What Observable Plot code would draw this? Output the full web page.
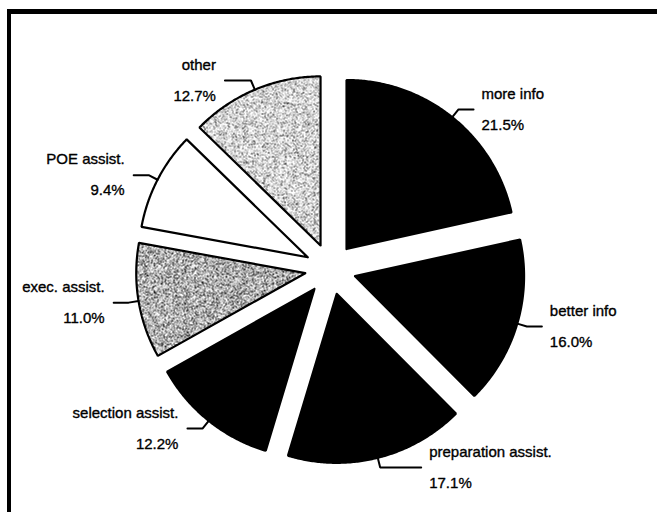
<!DOCTYPE html>
<html>
<head>
<meta charset="utf-8">
<script src="https://cdn.jsdelivr.net/npm/d3@7"></script>
<script src="https://cdn.jsdelivr.net/npm/@observablehq/plot@0.6"></script>
<style>
  html, body { margin: 0; padding: 0; background: #fff; }
  #wrap { position: relative; width: 657px; height: 512px; overflow: hidden; background: #fff; }
  #border { position: absolute; left: 7px; top: 9px; width: 800px; height: 700px;
            border-top: 5px solid #000; border-left: 4px solid #000; box-sizing: border-box; }
  #chart { position: absolute; left: 0; top: 0; }
</style>
</head>
<body>
<svg width="0" height="0" style="position:absolute">
  <defs>
    <filter id="grain" x="0" y="0" width="100%" height="100%" color-interpolation-filters="sRGB">
      <feTurbulence type="fractalNoise" baseFrequency="1.1" numOctaves="2" seed="4" result="n"/>
      <feColorMatrix in="n" type="matrix"
        values="4 0 0 0 -1.25  4 0 0 0 -1.25  4 0 0 0 -1.25  0 0 0 0 1"/>
    </filter>
    <filter id="grainLight" x="0" y="0" width="100%" height="100%" color-interpolation-filters="sRGB">
      <feTurbulence type="fractalNoise" baseFrequency="1.1" numOctaves="2" seed="9" result="n"/>
      <feColorMatrix in="n" type="matrix"
        values="3.5 0 0 0 -0.8  3.5 0 0 0 -0.8  3.5 0 0 0 -0.8  0 0 0 0 1"/>
    </filter>
    <pattern id="stippleDark" patternUnits="userSpaceOnUse" width="300" height="300">
      <rect width="300" height="300" fill="#888" filter="url(#grain)"/>
    </pattern>
    <pattern id="stippleLight" patternUnits="userSpaceOnUse" width="300" height="300">
      <rect width="300" height="300" fill="#bbb" filter="url(#grainLight)"/>
    </pattern>
  </defs>
</svg>
<div id="wrap"><div id="border"></div><div id="chart"></div></div>
<script>
// ---- data ----
const categories = ["more info", "better info", "preparation assist.", "selection assist.", "exec. assist.", "POE assist.", "other"];
const shares = [21.5, 16.0, 17.1, 12.2, 11.0, 9.4, 12.7];
const pctLabels = ["21.5%", "16.0%", "17.1%", "12.2%", "11.0%", "9.4%", "12.7%"];

// ---- layout / style ----
const W = 657, H = 512;
const CX = 330, CY = 268.5, R = 169;     // pie centre and radius in pixels
const EXPLODE = 25.6;                     // slice offset in pixels
const fills = ["#000", "#000", "#000", "#000", "url(#stippleDark)", "#fff", "url(#stippleLight)"];
const leaderLen = {"preparation assist.": 41, "other": 26}; // default 15 px
const e = EXPLODE / R;

const total = d3.sum(shares);
let acc = 0;
const slices = categories.map((name, i) => {
  const a0 = acc / total * 2 * Math.PI;
  acc += shares[i];
  const a1 = acc / total * 2 * Math.PI;
  return {name, value: shares[i], pct: pctLabels[i], a0, a1, am: (a0 + a1) / 2};
});

// wedge outlines (unit coordinates, y up)
const wedge = [];
for (const s of slices) {
  const ox = e * Math.sin(s.am), oy = e * Math.cos(s.am);
  wedge.push({name: s.name, x: ox, y: oy});
  const n = Math.max(8, Math.ceil((s.a1 - s.a0) / (Math.PI / 360)));
  for (let k = 0; k <= n; ++k) {
    const a = s.a0 + (s.a1 - s.a0) * k / n;
    wedge.push({name: s.name, x: ox + Math.sin(a), y: oy + Math.cos(a)});
  }
  wedge.push({name: s.name, x: ox, y: oy});
}

// leader lines and label anchors
const leaders = [];
const labels = [];
for (const s of slices) {
  const sx = Math.sin(s.am), cy = Math.cos(s.am);
  const side = sx >= 0 ? 1 : -1;
  const r0 = 1 + e, r1 = 1 + e + 10 / R;
  const len = (leaderLen[s.name] ?? 15) / R;
  const ex = r1 * sx, ey = r1 * cy;
  leaders.push({name: s.name, x: r0 * sx, y: r0 * cy});
  leaders.push({name: s.name, x: ex, y: ey});
  leaders.push({name: s.name, x: ex + side * len, y: ey});
  labels.push({name: s.name, pct: s.pct, x: ex + side * len, y: ey, side});
}

const textStyle = {fontSize: 15, fill: "#000", stroke: "#000", strokeWidth: 0.35};

const chart = Plot.plot({
  width: W,
  height: H,
  margin: 0,
  x: {domain: [-CX / R, (W - CX) / R], axis: null},
  y: {domain: [-(H - CY) / R, CY / R], axis: null},
  color: {domain: categories, range: fills},
  style: {fontFamily: "'Liberation Sans', Arial, sans-serif", background: "transparent"},
  marks: [
    Plot.line(wedge, {x: "x", y: "y", z: "name", fill: "name", stroke: "#000", strokeWidth: 2.2, strokeLinejoin: "miter"}),
    Plot.line(leaders, {x: "x", y: "y", z: "name", stroke: "#000", strokeWidth: 2, strokeLinejoin: "miter"}),
    Plot.text(labels.filter(d => d.side > 0), {x: "x", y: "y", text: "name", dx: 8, dy: -15.5, textAnchor: "start", ...textStyle}),
    Plot.text(labels.filter(d => d.side > 0), {x: "x", y: "y", text: "pct", dx: 8, dy: 15.5, textAnchor: "start", ...textStyle}),
    Plot.text(labels.filter(d => d.side < 0), {x: "x", y: "y", text: "name", dx: -9, dy: -15.5, textAnchor: "end", ...textStyle}),
    Plot.text(labels.filter(d => d.side < 0), {x: "x", y: "y", text: "pct", dx: -9, dy: 15.5, textAnchor: "end", ...textStyle})
  ]
});
document.getElementById("chart").appendChild(chart);
</script>
</body>
</html>
